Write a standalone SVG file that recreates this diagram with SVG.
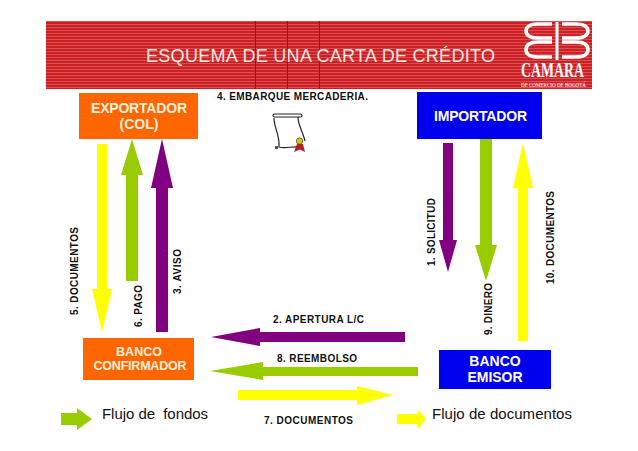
<svg xmlns="http://www.w3.org/2000/svg" width="638" height="451" viewBox="0 0 638 451">
<style>
text{font-family:"Liberation Sans",Arial,sans-serif}
.l{font-size:10px;font-weight:bold;fill:#111}
.n{font-size:14px;font-weight:bold;fill:#fbf0dc;text-anchor:middle}
.b{fill:#fff}
.f{font-size:15px;fill:#111;white-space:pre}
.s{font-family:"Liberation Serif",serif;fill:#fff}
.y{fill:#ffff00}.g{fill:#99cc00}.p{fill:#800080}
.lg{fill:none;stroke:#fff;stroke-width:3.600}
</style>
<defs>
<pattern id="st" width="4" height="3" patternUnits="userSpaceOnUse"><rect width="4" height="3" fill="#cc2026"/><rect width="4" height="1" fill="#d9504f"/></pattern>
</defs>
<rect width="638" height="451" fill="#fff"/>
<g id="banner">
<rect x="46" y="21" width="546" height="68" fill="url(#st)"/>
<path d="M255.500 21V89M287.500 21V89M319.500 21V89" stroke="#b00a10" stroke-width="1"/>
<text x="146" y="62" font-size="18" fill="#fbe9e4" textLength="349">ESQUEMA DE UNA CARTA DE CRÉDITO</text>
</g>
<g id="logo">
<path class="lg" d="M552 24H538C530 24 526 27 526 31C526 35 530 38 538 38H552M552 42H538C530 42 526 45 526 50C526 54 530 57 538 57H552"/>
<path class="lg" d="M562 24H576C584 24 588 27 588 31C588 35 584 38 576 38H562M562 42H576C584 42 588 45 588 50C588 54 584 57 576 57H562"/>
<path d="M557 22V60" fill="none" stroke="#fff" stroke-width="3"/>
<text class="s" x="521" y="77" font-size="20" font-weight="bold" textLength="63" lengthAdjust="spacingAndGlyphs">CAMARA</text>
<text class="s" x="521" y="87" font-size="6" textLength="65" lengthAdjust="spacingAndGlyphs">DE COMERCIO DE BOGOTÁ</text>
</g>
<g id="connectors">
<polygon class="y" points="97,144 107,144 107,289 112,289 102,332 92,289 97,289"/>
<polygon class="g" points="126,281 138,281 138,175 143,175 132,139 121,175 126,175"/>
<polygon class="p" points="156,332 168,332 168,188 173,188 162,139 151,188 156,188"/>
<polygon class="p" points="443,143 453,143 453,240 457,240 448,272 439,240 443,240"/>
<polygon class="g" points="480,139 492,139 492,245 497,245 486,281 475,245 480,245"/>
<polygon class="y" points="518,341 528,341 528,188 533,188 523,143 513,188 518,188"/>
<polygon class="p" points="405,332 405,342 260,342 260,346 211,337 260,328 260,332"/>
<polygon class="g" points="418,367 418,376 263,376 263,380 210,371 263,362 263,367"/>
<polygon class="y" points="238,390 357,390 357,386 393,395 357,405 357,400 238,400"/>
<polygon class="g" points="61,413 77,413 77,408 92,419 77,430 77,425 61,425"/>
<polygon class="y" points="397,414 418,414 418,410 426,419 418,429 418,424 397,424"/>
</g>
<g id="labels">
<text class="l" x="217" y="100" textLength="151">4. EMBARQUE MERCADERIA.</text>
<text class="l" x="273" y="323" textLength="91">2. APERTURA L/C</text>
<text class="l" x="277" y="362" textLength="80">8. REEMBOLSO</text>
<text class="l" x="264" y="424" textLength="89">7. DOCUMENTOS</text>
<text class="l" transform="translate(78 315) rotate(-90)" textLength="88">5. DOCUMENTOS</text>
<text class="l" transform="translate(142 327) rotate(-90)" textLength="42">6. PAGO</text>
<text class="l" transform="translate(181 294) rotate(-90)" textLength="45">3. AVISO</text>
<text class="l" transform="translate(435 266) rotate(-90)" textLength="68">1. SOLICITUD</text>
<text class="l" transform="translate(492 335) rotate(-90)" textLength="52">9. DINERO</text>
<text class="l" transform="translate(554 284) rotate(-90)" textLength="93">10. DOCUMENTOS</text>
</g>
<g id="exportador"><rect x="79" y="93" width="119" height="46" fill="#ff6600"/><text class="n" x="139" y="113" textLength="96">EXPORTADOR</text><text class="n" x="139" y="129">(COL)</text></g>
<g id="importador"><rect x="417" y="92" width="125" height="47" fill="#0000ee"/><text class="n b" x="480.500" y="121" textLength="93">IMPORTADOR</text></g>
<g id="banco-confirmador"><rect x="83" y="338" width="111" height="42" fill="#ff6600"/><text class="n" x="139" y="356" style="font-size:12.5px">BANCO</text><text class="n" x="140" y="370" style="font-size:12.5px" textLength="93">CONFIRMADOR</text></g>
<g id="banco-emisor"><rect x="439" y="350" width="112" height="39" fill="#0000ee"/><text class="n b" x="495" y="366">BANCO</text><text class="n b" x="495" y="382">EMISOR</text></g>
<g id="scroll">
<path d="M274 118C274 128 280 135 279 147C286 149 292 146 298 147M298 117C298 125 303 132 305 141" fill="none" stroke="#222" stroke-width="1.200"/>
<rect x="273" y="114" width="29" height="3" rx="1.500" fill="#fff" stroke="#222" stroke-width="1.200"/>
<rect x="275" y="146" width="3" height="3" fill="#555"/>
<path d="M294 152L297 144H303L305 152L300 149.500Z" fill="#b02028"/>
<circle cx="299.500" cy="141" r="3.200" fill="#d8c020" stroke="#554400" stroke-width="0.700"/>
</g>
<g id="legend">
<text class="f" x="102" y="419" textLength="106" xml:space="preserve">Flujo de  fondos</text>
<text class="f" x="432" y="419" textLength="140">Flujo de documentos</text>
</g>
</svg>
